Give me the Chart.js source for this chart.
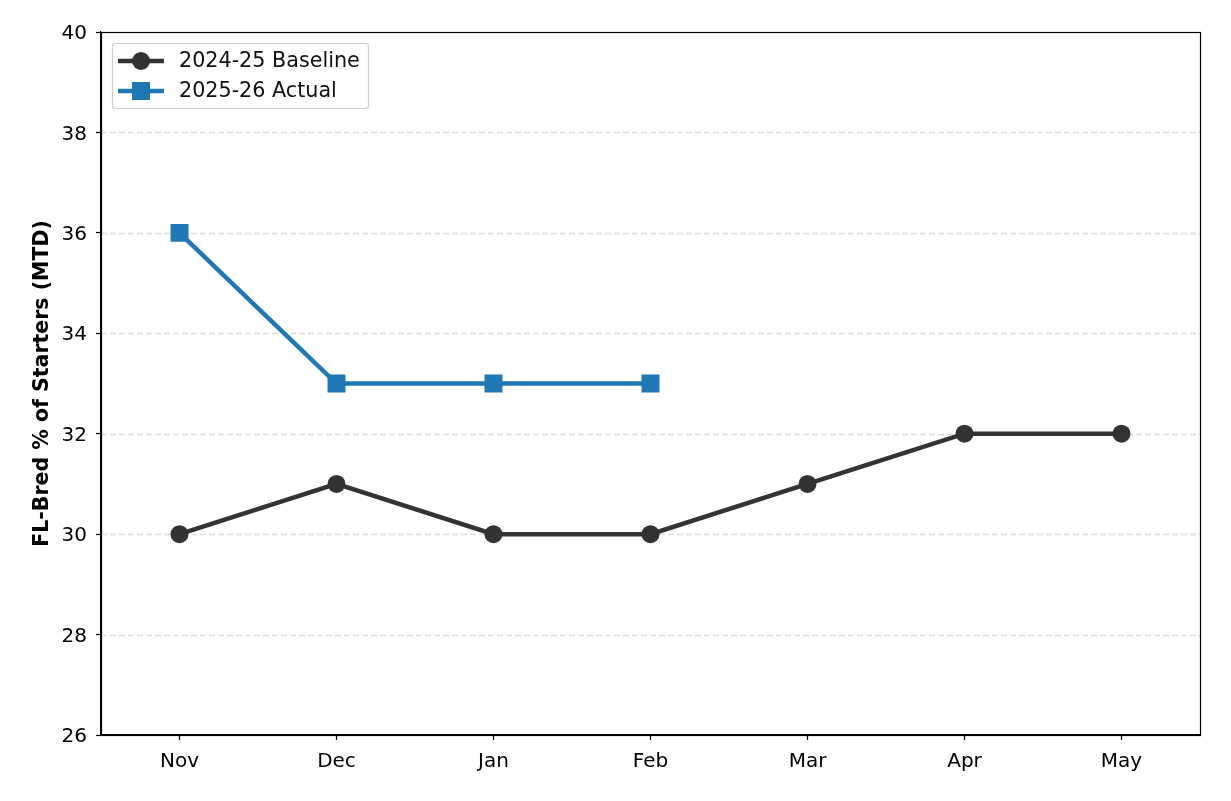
<!DOCTYPE html>
<html>
<head>
<meta charset="utf-8">
<script src="https://cdn.jsdelivr.net/npm/chart.js@4"></script>
<style>
  body { margin: 0; background: #fff; }
  #wrap { width: 1231px; height: 801px; position: relative; }
</style>
</head>
<body>
<div id="wrap"><canvas id="chart"></canvas></div>
<script>
// data
var months = ["Nov", "Dec", "Jan", "Feb", "Mar", "Apr", "May"];
var baseline = [30, 31, 30, 30, 31, 32, 32];
var actual = [36, 33, 33, 33, null, null, null];
var yTicks = [26, 28, 30, 32, 34, 36, 38, 40];

var seriesNames = ["2024-25 Baseline", "2025-26 Actual"];
var seriesColors = ["#333333", "#1f77b4"];
var seriesMarkers = ["circle", "rect"];

/*
 dashed y grid + top/right spines
 */
var frame = {
    id: "frame",
    beforeDatasetsDraw: function (chart) {
        var ctx = chart.ctx, a = chart.chartArea, y = chart.scales.y;
        ctx.save();
        ctx.strokeStyle = "#dcdcdc";
        ctx.lineWidth = 1.3;
        ctx.setLineDash([6, 3]);
        yTicks.forEach(function (v) {
            if (v == 26 || v == 40) return;
            var py = Math.round(y.getPixelForValue(v)) + 0.5;
            ctx.beginPath();
            ctx.moveTo(a.left, py);
            ctx.lineTo(a.right, py);
            ctx.stroke();
        });
        ctx.restore();
    },
    afterDraw: function (chart) {
        var ctx = chart.ctx, a = chart.chartArea;
        ctx.save();
        ctx.strokeStyle = "#000";
        ctx.lineWidth = 1.2;
        ctx.strokeRect(a.left + 0.5, a.top + 0.5, a.right - a.left, a.bottom - a.top);
        ctx.restore();
    }
};

/*
 matplotlib-like legend: line with marker in the middle
 */
var lineLegend = {
    id: "lineLegend",
    afterDraw: function (chart) {
        var ctx = chart.ctx, a = chart.chartArea;
        var x0 = a.left + 11, y0 = a.top + 11, w = 256, h = 65;
        ctx.save();
        ctx.fillStyle = "rgba(255,255,255,0.85)";
        ctx.strokeStyle = "#d0d0d0";
        ctx.lineWidth = 1.2;
        ctx.beginPath();
        ctx.roundRect(x0 + 0.5, y0 + 0.5, w, h, 3);
        ctx.fill();
        ctx.stroke();
        ctx.font = "20.7px 'DejaVu Sans'";
        ctx.textBaseline = "middle";
        for (var i = 0; i < seriesNames.length; i++) {
            var cy = y0 + 18 + i * 30;
            ctx.strokeStyle = seriesColors[i];
            ctx.fillStyle = seriesColors[i];
            ctx.lineWidth = 4.5;
            ctx.beginPath();
            ctx.moveTo(x0 + 6, cy);
            ctx.lineTo(x0 + 52, cy);
            ctx.stroke();
            if (seriesMarkers[i] == "circle") {
                ctx.beginPath();
                ctx.arc(x0 + 29, cy, 9, 0, Math.PI * 2);
                ctx.fill();
            } else {
                ctx.fillRect(x0 + 20, cy - 9, 18, 18);
            }
            ctx.fillStyle = "#111";
            ctx.fillText(seriesNames[i], x0 + 67, cy + 1);
        }
        ctx.restore();
    }
};

var chart = new Chart(document.getElementById("chart"), {
    type: "line",
    data: {
        labels: months,
        datasets: [
            {
                label: seriesNames[0],
                data: baseline,
                borderColor: seriesColors[0],
                backgroundColor: seriesColors[0],
                borderWidth: 4.5,
                pointStyle: seriesMarkers[0],
                pointRadius: 9,
                pointHoverRadius: 9,
                pointBorderWidth: 0,
                tension: 0
            },
            {
                label: seriesNames[1],
                data: actual,
                borderColor: seriesColors[1],
                backgroundColor: seriesColors[1],
                borderWidth: 4.5,
                pointStyle: seriesMarkers[1],
                pointRadius: 12.7,
                pointHoverRadius: 12.7,
                pointBorderWidth: 0,
                spanGaps: false,
                tension: 0
            }
        ]
    },
    options: {
        responsive: true,
        maintainAspectRatio: false,
        animation: false,
        layout: { padding: { left: 0, right: 31, top: 32, bottom: 0 } },
        plugins: {
            legend: { display: false },
            tooltip: { enabled: false }
        },
        scales: {
            x: {
                offset: true,
                grid: { display: true, drawOnChartArea: false, tickLength: 5, tickWidth: 1.2, tickColor: "#000", offset: false },
                border: { color: "#000", width: 1.2 },
                ticks: { color: "#000", padding: 10, font: { family: "DejaVu Sans", size: 20 } },
                afterFit: function (s) { s.height = 66; }
            },
            y: {
                min: 26,
                max: 40,
                afterBuildTicks: function (s) {
                    s.ticks = yTicks.map(function (v) { return { value: v }; });
                },
                grid: { drawOnChartArea: false, tickLength: 5, tickWidth: 1.2, tickColor: "#000" },
                border: { color: "#000", width: 1.2 },
                ticks: { color: "#000", padding: 9, labelOffset: 2, font: { family: "DejaVu Sans", size: 20 } },
                title: {
                    display: true,
                    text: "FL-Bred % of Starters (MTD)",
                    color: "#000",
                    font: { family: "DejaVu Sans", size: 20.5, weight: "bold" },
                    padding: { top: 30, bottom: 0 }
                },
                afterFit: function (s) { s.width = 101; }
            }
        }
    },
    plugins: [frame, lineLegend]
});
</script>
</body>
</html>
